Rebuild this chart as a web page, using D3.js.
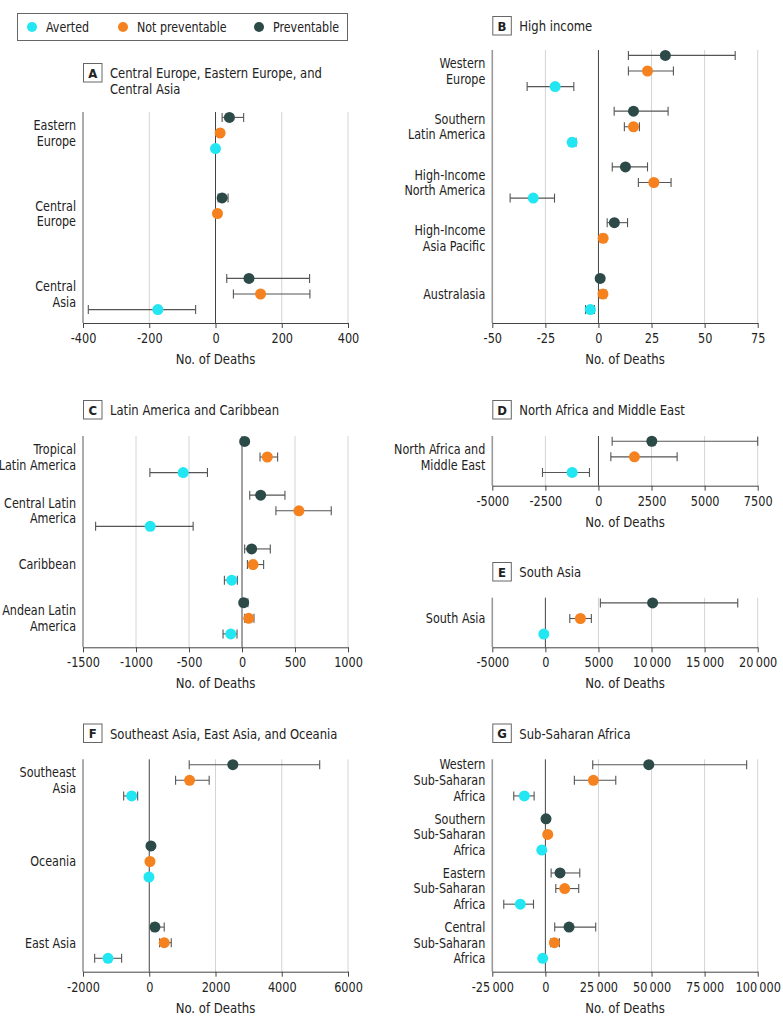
<!DOCTYPE html>
<html>
<head>
<meta charset="utf-8">
<script src="https://cdn.jsdelivr.net/npm/d3@7/dist/d3.min.js"></script>
<style>
  html, body { margin: 0; padding: 0; background: #fff; }
  svg { display: block; }
  text { font-family: "DejaVu Sans Condensed", "DejaVu Sans", sans-serif; font-stretch: condensed; fill: #222; }
</style>
</head>
<body>
<svg id="chart" width="783" height="1026"></svg>
<script>
// ---------- DATA: [estimate, lower, upper] ----------
const seriesNames = ["Preventable", "Not preventable", "Averted"];
const legendOrder = ["Averted", "Not preventable", "Preventable"];

const catsA = ["Eastern\nEurope", "Central\nEurope", "Central\nAsia"];
const prevA = [[42, 20, 85], [20, 8, 38], [101, 34, 284]];
const npA   = [[14, 8, 21], [6, 2, 11], [136, 54, 285]];
const avA   = [[0, -3, 3], null, [-174, -384, -60]];
const ticksA = [-400, -200, 0, 200, 400];

const catsB = ["Western\nEurope", "Southern\nLatin America", "High-Income\nNorth America", "High-Income\nAsia Pacific", "Australasia"];
const prevB = [[31.5, 14.1, 64.4], [16.5, 7.4, 32.8], [12.7, 6.5, 23.1], [7.5, 4.1, 13.7], [0.8, 0, 1.8]];
const npB   = [[23.1, 14.1, 35.3], [16.5, 12.2, 19.3], [26.1, 18.8, 34.2], [2.2, 1, 3.5], [2.1, 0.6, 3.6]];
const avB   = [[-20.4, -33.6, -11.6], [-12.4, -13.6, -10.6], [-30.7, -41.6, -20.7], null, [-3.8, -6.1, -1.9]];
const ticksB = [-50, -25, 0, 25, 50, 75];

const catsC = ["Tropical\nLatin America", "Central Latin\nAmerica", "Caribbean", "Andean Latin\nAmerica"];
const prevC = [[25, 5, 45], [176, 73, 405], [91, 25, 267], [16, -15, 56]];
const npC   = [[239, 170, 336], [537, 320, 842], [104, 51, 204], [63, 25, 113]];
const avC   = [[-555, -869, -326], [-866, -1381, -461], [-97, -166, -44], [-106, -179, -47]];
const ticksC = [-1500, -1000, -500, 0, 500, 1000];

const catsD = ["North Africa and\nMiddle East"];
const prevD = [[2513, 645, 7500]];
const npD   = [[1695, 583, 3705]];
const avD   = [[-1238, -2636, -424]];
const ticksD = [-5000, -2500, 0, 2500, 5000, 7500];

const catsE = ["South Asia"];
const prevE = [[10100, 5180, 18120]];
const npE   = [[3300, 2300, 4330]];
const avE   = [[-150, -300, 0]];
const ticksE = [-5000, 0, 5000, 10000, 15000, 20000];

const catsF = ["Southeast\nAsia", "Oceania", "East Asia"];
const prevF = [[2523, 1206, 5146], [51, 0, 120], [172, 71, 452]];
const npF   = [[1217, 795, 1809], [21, 0, 50], [452, 312, 664]];
const avF   = [[-531, -772, -350], [-9, -30, 10], [-1246, -1648, -834]];
const ticksF = [-2000, 0, 2000, 4000, 6000];

const catsG = ["Western\nSub-Saharan\nAfrica", "Southern\nSub-Saharan\nAfrica", "Eastern\nSub-Saharan\nAfrica", "Central\nSub-Saharan\nAfrica"];
const prevG = [[48700, 22300, 94800], [300, -500, 1200], [6900, 2700, 16200], [11150, 4400, 23700]];
const npG   = [[22600, 13650, 33150], [1100, 0, 2200], [9100, 4900, 15700], [4250, 2500, 6600]];
const avG   = [[-9900, -14900, -5300], [-1700, -2600, -800], [-11800, -19600, -5600], [-1250, -2100, -500]];
const ticksG = [-25000, 0, 25000, 50000, 75000, 100000];

const colors = { "Averted": "#22e6f2", "Not preventable": "#f5821f", "Preventable": "#2b4a48" };

// ---------- LAYOUT ----------
const L = 83, R = 348, L2 = 492.3, R2 = 757.7;
const panels = [
  { letter: "A", title: ["Central Europe, Eastern Europe, and", "Central Asia"], cats: catsA, s: [prevA, npA, avA], ticks: ticksA, x0: L, x1: R, y0: 112, y1: 323, ty: 63 },
  { letter: "B", title: ["High income"], cats: catsB, s: [prevB, npB, avB], ticks: ticksB, x0: L2, x1: R2, y0: 50, y1: 323, ty: 16 },
  { letter: "C", title: ["Latin America and Caribbean"], cats: catsC, s: [prevC, npC, avC], ticks: ticksC, x0: L, x1: R, y0: 436, y1: 647.3, ty: 400 },
  { letter: "D", title: ["North Africa and Middle East"], cats: catsD, s: [prevD, npD, avD], ticks: ticksD, x0: L2, x1: R2, y0: 436, y1: 485.7, ty: 400 },
  { letter: "E", title: ["South Asia"], cats: catsE, s: [prevE, npE, avE], ticks: ticksE, x0: L2, x1: R2, y0: 597.7, y1: 647.3, ty: 562 },
  { letter: "F", title: ["Southeast Asia, East Asia, and Oceania"], cats: catsF, s: [prevF, npF, avF], ticks: ticksF, x0: L, x1: R, y0: 759.3, y1: 971.7, ty: 723.5 },
  { letter: "G", title: ["Sub-Saharan Africa"], cats: catsG, s: [prevG, npG, avG], ticks: ticksG, x0: L2, x1: R2, y0: 759.3, y1: 971.7, ty: 723.5 }
];

const svg = d3.select("#chart");

function fmt(v) {
  const a = Math.abs(v);
  let s = String(a);
  if (a >= 10000) s = s.replace(/\B(?=(\d{3})+(?!\d))/g, "\u2009");
  return (v < 0 ? "-" : "") + s;
}
// horizontally condense a text to mimic the narrow original typeface
function squeeze(sel, f) {
  sel.each(function () {
    const w = this.getComputedTextLength();
    this.setAttribute("textLength", (w * f).toFixed(2));
    this.setAttribute("lengthAdjust", "spacingAndGlyphs");
  });
}

// ---------- LEGEND ----------
const leg = svg.append("g");
leg.append("rect").attr("x", 17.5).attr("y", 13.5).attr("width", 330).attr("height", 27)
  .attr("fill", "#fff").attr("stroke", "#666").attr("stroke-width", 1);
const legX = d3.scaleOrdinal().domain(legendOrder).range([32, 123, 259]);
legendOrder.forEach(k => {
  leg.append("circle").attr("cx", legX(k)).attr("cy", 27).attr("r", 5).attr("fill", colors[k]);
  leg.append("text").attr("x", legX(k) + 14).attr("y", 27).attr("dy", "0.36em")
    .attr("font-size", 14).text(k).call(squeeze, 0.88);
});

// ---------- PANELS ----------
const slot = d3.scalePoint().domain(seriesNames).range([-15.6, 15.6]);

panels.forEach(p => {
  const g = svg.append("g");
  const x = d3.scaleLinear().domain(d3.extent(p.ticks)).range([p.x0, p.x1]);
  const y = d3.scalePoint().domain(p.cats).range([p.y0 + 21, p.y1 - 29]);

  // title
  g.append("rect").attr("x", p.x0 + 0.5).attr("y", p.ty + 0.5).attr("width", 18.5).attr("height", 18.5)
    .attr("fill", "#fff").attr("stroke", "#666");
  g.append("text").attr("x", p.x0 + 9.75).attr("y", p.ty + 10).attr("dy", "0.36em")
    .attr("text-anchor", "middle").attr("font-weight", "bold").attr("font-size", 13).text(p.letter);
  p.title.forEach((t, i) => {
    g.append("text").attr("x", p.x0 + 27).attr("y", p.ty + 10 + i * 16).attr("dy", "0.36em")
      .attr("font-size", 14.5).text(t).call(squeeze, 0.89);
  });

  // gridlines
  g.selectAll(".grid").data(p.ticks.filter(t => t !== 0 && x(t) > p.x0 + 1)).enter().append("line")
    .attr("x1", d => x(d)).attr("x2", d => x(d)).attr("y1", p.y0).attr("y2", p.y1)
    .attr("stroke", "#d4d4d4").attr("stroke-width", 1);
  // zero line
  g.append("line").attr("x1", x(0)).attr("x2", x(0)).attr("y1", p.y0).attr("y2", p.y1)
    .attr("stroke", "#444").attr("stroke-width", 1);
  // left axis line
  g.append("line").attr("x1", p.x0).attr("x2", p.x0).attr("y1", p.y0).attr("y2", p.y1)
    .attr("stroke", "#999").attr("stroke-width", 1.6);

  // bottom axis
  const ax = g.append("g").attr("transform", `translate(0,${p.y1})`)
    .call(d3.axisBottom(x).tickValues(p.ticks).tickFormat(fmt).tickSize(5).tickSizeOuter(0));
  ax.select(".domain").attr("stroke", "#444");
  ax.selectAll(".tick line").attr("stroke", "#444");
  ax.selectAll(".tick text").attr("font-size", 13.5).attr("fill", "#222")
    .attr("font-family", null).attr("dy", "0.88em").call(squeeze, 0.93);
  g.append("text").attr("x", (p.x0 + p.x1) / 2).attr("y", p.y1 + 36).attr("dy", "0.36em")
    .attr("text-anchor", "middle").attr("font-size", 14).text("No. of Deaths").call(squeeze, 0.93);

  // category labels
  p.cats.forEach(c => {
    const lines = c.split("\n");
    lines.forEach((ln, i) => {
      g.append("text").attr("x", p.x0 - 7).attr("y", y(c) + (i - (lines.length - 1) / 2) * 15.7)
        .attr("dy", "0.36em").attr("text-anchor", "end").attr("font-size", 13.5).text(ln)
        .call(squeeze, 0.92);
    });
  });

  // marks
  seriesNames.forEach((sn, si) => {
    const rows = p.s[si].map((d, i) => d ? { cat: p.cats[i], v: d[0], lo: d[1], hi: d[2] } : null).filter(Boolean);
    const yy = d => y(d.cat) + slot(sn);
    const eb = g.append("g").attr("stroke", "#555").attr("stroke-width", 1.1);
    eb.selectAll(".h").data(rows).enter().append("line")
      .attr("x1", d => x(d.lo)).attr("x2", d => x(d.hi)).attr("y1", yy).attr("y2", yy);
    eb.selectAll(".c1").data(rows).enter().append("line")
      .attr("x1", d => x(d.lo)).attr("x2", d => x(d.lo)).attr("y1", d => yy(d) - 4.5).attr("y2", d => yy(d) + 4.5);
    eb.selectAll(".c2").data(rows).enter().append("line")
      .attr("x1", d => x(d.hi)).attr("x2", d => x(d.hi)).attr("y1", d => yy(d) - 4.5).attr("y2", d => yy(d) + 4.5);
    g.selectAll(".pt" + si).data(rows).enter().append("circle")
      .attr("cx", d => x(d.v)).attr("cy", yy).attr("r", 5.5).attr("fill", colors[sn]);
  });
});
</script>
</body>
</html>
